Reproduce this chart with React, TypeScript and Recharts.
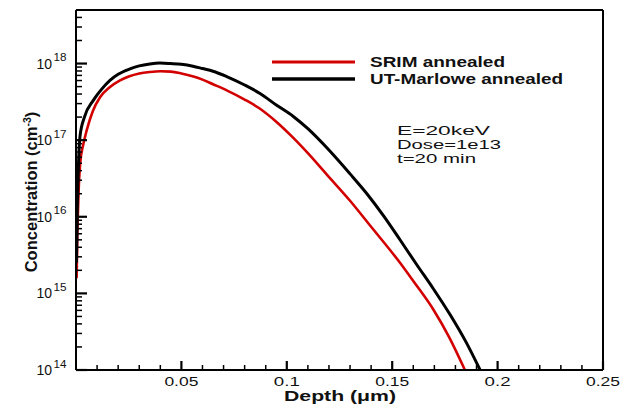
import { LineChart, Line, XAxis, YAxis, ReferenceLine } from 'recharts'

// SRIM annealed profile (depth in um, concentration in cm^-3)
const srimDepth = [
  0.0003, 0.0006, 0.0012, 0.002, 0.0035, 0.0051, 0.008, 0.0114, 0.016, 0.0209,
  0.025, 0.03, 0.035, 0.04, 0.045, 0.05, 0.0557, 0.06, 0.065, 0.0715,
  0.08, 0.0873, 0.095, 0.1031, 0.11, 0.119, 0.13, 0.14, 0.1537, 0.16,
  0.1695, 0.177, 0.1845,
]
const srimConc = [
  1.58e15, 5.01e15, 2.0e16, 5.01e16, 8.91e16, 1.35e17, 2.4e17, 3.63e17, 4.9e17, 6.03e17,
  6.76e17, 7.41e17, 7.76e17, 7.94e17, 7.85e17, 7.41e17, 6.76e17, 6.17e17, 5.37e17, 4.47e17,
  3.39e17, 2.57e17, 1.74e17, 1.07e17, 6.76e16, 3.55e16, 1.62e16, 7.41e15, 2.51e15, 1.45e15,
  6.17e14, 2.69e14, 1.0e14,
]

// UT-Marlowe annealed profile
const marloweDepth = [
  0.0002, 0.0006, 0.0012, 0.0019, 0.004, 0.0082, 0.012, 0.0161, 0.02, 0.0256,
  0.03, 0.035, 0.0398, 0.045, 0.05, 0.0555, 0.06, 0.065, 0.0715, 0.08,
  0.0873, 0.095, 0.1031, 0.11, 0.119, 0.13, 0.138, 0.146, 0.1537, 0.1615,
  0.1695, 0.1775, 0.1853, 0.1917,
]
const marloweConc = [
  2.51e15, 1.26e16, 5.01e16, 1.12e17, 2.0e17, 3.31e17, 4.57e17, 6.03e17, 7.24e17, 8.51e17,
  9.33e17, 9.89e17, 1.016e18, 1.0e18, 9.77e17, 9.23e17, 8.61e17, 7.94e17, 6.76e17, 5.25e17,
  4.07e17, 2.88e17, 2.04e17, 1.41e17, 7.94e16, 3.63e16, 2.0e16, 1.02e16, 5.01e15, 2.4e15,
  1.15e15, 5.25e14, 2.24e14, 1.0e14,
]

const xMajor = [0.05, 0.1, 0.15, 0.2, 0.25]
const xLabels = ['0.05', '0.1', '0.15', '0.2', '0.25']
const xMinor = [
  0.01, 0.02, 0.03, 0.04, 0.06, 0.07, 0.08, 0.09, 0.11, 0.12,
  0.13, 0.14, 0.16, 0.17, 0.18, 0.19, 0.21, 0.22, 0.23, 0.24,
]
const yMajor = [1e14, 1e15, 1e16, 1e17, 1e18]
const yExp = ['14', '15', '16', '17', '18']
const Y_MAX = 5e18
const yMinor = yMajor.flatMap(m => [2, 3, 4, 5, 6, 7, 8, 9].map(k => k * m)).filter(v => v < Y_MAX)

const srimData = srimDepth.map((x, i) => ({ x, c: srimConc[i] }))
const marloweData = marloweDepth.map((x, i) => ({ x, c: marloweConc[i] }))

const FONT = '"Liberation Sans", Arial, sans-serif'
const RED = '#d30000'

const findIdx = (list: number[], v: number) => list.findIndex(m => Math.abs(m - v) / m < 1e-6)

// ticks point inward (Tecplot style); labels only on the majors
function XTick(props: any) {
  const { x, y, payload } = props
  const i = findIdx(xMajor, payload.value)
  if (i < 0) return <line x1={x} x2={x} y1={y} y2={y - 5} stroke="#000" strokeWidth={1.5} />
  const label = xLabels[i]
  return (
    <g>
      <line x1={x} x2={x} y1={y} y2={y - 9} stroke="#000" strokeWidth={2.2} />
      <text x={x} y={y + 16} textAnchor="middle" fontFamily={FONT} fontSize={12} fill="#111"
        textLength={label.length === 3 ? 26 : 34} lengthAdjust="spacingAndGlyphs">{label}</text>
    </g>
  )
}

function YTick(props: any) {
  const { x, y, payload } = props
  const i = findIdx(yMajor, payload.value)
  if (i < 0) return <line x1={x} x2={x + 6} y1={y} y2={y} stroke="#000" strokeWidth={1.5} />
  return (
    <g>
      <line x1={x} x2={x + 11} y1={y} y2={y} stroke="#000" strokeWidth={2.2} />
      <text x={x - 24} y={y + 5} textAnchor="end" fontFamily={FONT} fontSize={14} fill="#111">10</text>
      <text x={x - 22.5} y={y - 2.5} textAnchor="start" fontFamily={FONT} fontSize={10} fill="#111"
        textLength={13} lengthAdjust="spacingAndGlyphs">{yExp[i]}</text>
    </g>
  )
}

export default function App() {
  return (
    <div style={{ position: 'absolute', left: 0, top: 0, width: 631, height: 409, background: '#fff' }}>
      <LineChart width={631} height={409} margin={{ top: 10, right: 28, bottom: 9, left: 6 }}>
        <XAxis
          type="number" dataKey="x" domain={[0, 0.25]} allowDataOverflow
          ticks={[...xMinor, ...xMajor]} interval={0} tick={(p: any) => <XTick {...p} />}
          tickLine={false} tickSize={0} tickMargin={0} height={30}
          axisLine={{ stroke: '#000', strokeWidth: 2 }}
        />
        <YAxis
          type="number" dataKey="c" scale="log" domain={[1e14, Y_MAX]} allowDataOverflow
          ticks={[...yMinor, ...yMajor]} interval={0} tick={(p: any) => <YTick {...p} />}
          tickLine={false} tickSize={0} tickMargin={0} width={70}
          axisLine={{ stroke: '#000', strokeWidth: 2 }}
        />
        <ReferenceLine x={0.25} stroke="#000" strokeWidth={2} />
        <ReferenceLine y={Y_MAX} stroke="#000" strokeWidth={2} />
        <Line data={srimData} dataKey="c" type="monotone" stroke={RED} strokeWidth={2.6} dot={false} isAnimationActive={false} />
        <Line data={marloweData} dataKey="c" type="monotone" stroke="#000" strokeWidth={3} dot={false} isAnimationActive={false} />
      </LineChart>
      <svg width={631} height={409} style={{ position: 'absolute', left: 0, top: 0, pointerEvents: 'none' }}>
        {/* legend */}
        <line x1={272} x2={355} y1={62} y2={62} stroke={RED} strokeWidth={3} />
        <line x1={272} x2={355} y1={79} y2={79} stroke="#000" strokeWidth={3.5} />
        <text x={370} y={66.5} fontFamily={FONT} fontWeight="bold" fontSize={14} fill="#111"
          textLength={135} lengthAdjust="spacingAndGlyphs">SRIM annealed</text>
        <text x={370} y={84} fontFamily={FONT} fontWeight="bold" fontSize={14} fill="#111"
          textLength={193} lengthAdjust="spacingAndGlyphs">UT-Marlowe annealed</text>
        {/* implant conditions */}
        <text x={397} y={135} fontFamily={FONT} fontSize={12} fill="#111"
          textLength={93} lengthAdjust="spacingAndGlyphs">E=20keV</text>
        <text x={397} y={149} fontFamily={FONT} fontSize={12} fill="#111"
          textLength={104} lengthAdjust="spacingAndGlyphs">Dose=1e13</text>
        <text x={397} y={163} fontFamily={FONT} fontSize={12} fill="#111"
          textLength={79} lengthAdjust="spacingAndGlyphs">t=20 min</text>
        {/* axis titles */}
        <text x={340} y={401} textAnchor="middle" fontFamily={FONT} fontWeight="bold" fontSize={15} fill="#111"
          textLength={112} lengthAdjust="spacingAndGlyphs">Depth (μm)</text>
        <text x={37} y={192} textAnchor="middle" fontFamily={FONT} fontWeight="bold" fontSize={16.5} fill="#111"
          transform="rotate(-90 37 192)">
          Concentration (cm<tspan dy={-6} fontSize={10.5}>-3</tspan><tspan dy={6}>)</tspan>
        </text>
      </svg>
    </div>
  )
}
